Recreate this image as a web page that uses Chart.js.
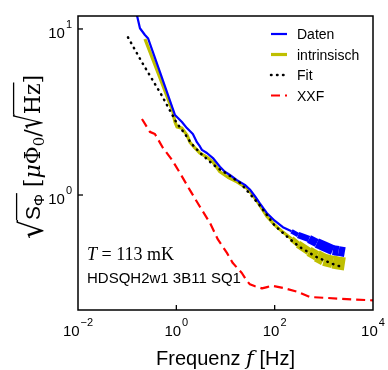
<!DOCTYPE html>
<html><head><meta charset="utf-8">
<script src="https://cdn.jsdelivr.net/npm/chart.js@4.4.0/dist/chart.umd.min.js"></script>
<style>html,body{margin:0;padding:0;background:#fff;}#wrap{width:388px;height:370px;}</style>
</head><body><div id="wrap"><canvas id="c" width="388" height="370"></canvas></div>
<script>
// ---- data ----
const freqDaten = [0.150, 0.158, 0.182, 0.230, 0.265, 0.465, 0.940, 1.08, 1.30, 1.64, 2.17, 2.62, 3.02, 3.31, 4.19, 5.55, 7.7, 9.7, 12.3, 17.1, 24.8, 31.3, 40, 50, 69, 100, 147, 220, 300, 500, 721, 1000, 1525, 2000, 2670];
const valDaten  = [14.0, 12.1, 10.1, 9.2, 8.8, 5.5, 3.03, 2.91, 2.75, 2.53, 2.33, 2.08, 1.96, 1.87, 1.79, 1.67, 1.48, 1.38, 1.32, 1.23, 1.15, 1.08, 0.98, 0.89, 0.78, 0.70, 0.64, 0.605, 0.575, 0.543, 0.514, 0.492, 0.466, 0.460, 0.453];

const freqIntr = [0.230, 0.465, 0.853, 0.90, 0.94, 1.03, 1.30, 1.64, 1.89, 2.39, 3.02, 4.19, 5.55, 7.7, 11.2, 17.1, 27.2, 36, 50, 69, 100, 147, 220, 300, 500, 721, 1000, 1525, 2000, 2670];
const valIntr  = [8.7, 5.07, 3.16, 2.90, 2.75, 2.57, 2.53, 2.30, 2.08, 1.92, 1.79, 1.69, 1.58, 1.38, 1.28, 1.20, 1.10, 1.00, 0.865, 0.745, 0.66, 0.598, 0.545, 0.505, 0.457, 0.430, 0.408, 0.395, 0.389, 0.384];

const freqFit = [0.104, 0.2, 0.5, 1.0, 1.5, 2, 3, 5, 7, 10, 20, 30, 50, 100, 200, 325, 500, 700, 1000, 1500, 2000, 2430];
const valFit  = [8.9, 6.3, 4.0, 2.74, 2.33, 2.05, 1.80, 1.57, 1.45, 1.36, 1.18, 1.03, 0.865, 0.655, 0.545, 0.486, 0.45, 0.424, 0.405, 0.385, 0.374, 0.368];

const freqXXF = [0.2, 0.29, 0.367, 0.535, 0.815, 1.18, 1.89, 3.02, 4.82, 7.0, 10.7, 14.1, 21.5, 27, 31.3, 40, 55, 70, 88, 147, 283, 519, 1150, 2930, 10000];
const valXXF  = [2.87, 2.40, 2.33, 1.92, 1.63, 1.36, 1.07, 0.85, 0.68, 0.54, 0.448, 0.389, 0.339, 0.305, 0.290, 0.282, 0.274, 0.279, 0.284, 0.276, 0.262, 0.243, 0.240, 0.236, 0.232];

// noise band (spread of the measured spectra at high frequency), as drawn line width
const bandFreq  = [150, 300, 500, 700, 1500, 2700];
const bandDaten = [2.2, 6.5, 8.5, 10, 10, 9.5];
const bandIntr  = [3.2, 8, 10, 12, 13, 13];

const seriesNames = ['Daten', 'intrinsisch', 'Fit', 'XXF'];
const xTickVals = [0.01, 1, 100, 10000];
const xTickExps = ['\u22122', '0', '2', '4'];
const yTickVals = [1, 10];
const yTickExps = ['0', '1'];
const xRange = [0.01, 10000];
const yRange = [0.203, 11.97];
const noteLines = ['T = 113 mK', 'HDSQH2w1 3B11 SQ1'];

// ---- chart ----
const pts = (f, v) => f.map((x, i) => ({x: x, y: v[i]}));
const colors = ['#0000ff', '#bfbf00', '#000000', '#ff0000'];
const widths = [2.2, 3.2, 2.5, 2.2];
const dashes = [[], [], [0.5, 5.5], [9, 5]];

function bandWidth(f, tbl, w0) {
  if (f <= bandFreq[0]) return w0;
  for (let i = 1; i < bandFreq.length; i++) {
    if (f <= bandFreq[i]) {
      const t = (Math.log(f) - Math.log(bandFreq[i - 1])) / (Math.log(bandFreq[i]) - Math.log(bandFreq[i - 1]));
      return tbl[i - 1] + t * (tbl[i] - tbl[i - 1]);
    }
  }
  return tbl[tbl.length - 1];
}

Chart.defaults.font.family = '"Liberation Sans", Arial, sans-serif';

function measureSegs(ctx, segs) {
  let w = 0;
  segs.forEach(s => { ctx.font = s.font; s.w = ctx.measureText(s.t).width; w += s.w; });
  return w;
}

function powLabel(ctx, exp, x, yBase, align) {
  const bigF = '15px "Liberation Sans"', smallF = '11px "Liberation Sans"';
  ctx.font = bigF; const w1 = ctx.measureText('10').width;
  ctx.font = smallF; const w2 = ctx.measureText(exp).width;
  const tot = w1 + 1 + w2;
  let x0 = align === 'right' ? x - tot : x - tot / 2;
  ctx.textAlign = 'left';
  ctx.font = bigF; ctx.fillText('10', x0, yBase);
  ctx.font = smallF; ctx.fillText(exp, x0 + w1 + 1, yBase - 10);
}

const decor = {
  id: 'decor',
  afterDatasetsDraw(chart) {
    const ctx = chart.ctx, a = chart.chartArea, xs = chart.scales.x, ys = chart.scales.y;
    ctx.save();
    // frame
    ctx.strokeStyle = '#000'; ctx.lineWidth = 1.5; ctx.setLineDash([]);
    ctx.strokeRect(a.left, a.top, a.right - a.left, a.bottom - a.top);
    // inward ticks + labels
    ctx.lineWidth = 1.3; ctx.fillStyle = '#000'; ctx.textBaseline = 'alphabetic';
    xTickVals.forEach((v, i) => {
      const p = xs.getPixelForValue(v);
      if (p > a.left + 2 && p < a.right - 2) { ctx.beginPath(); ctx.moveTo(p, a.bottom); ctx.lineTo(p, a.bottom - 5); ctx.stroke(); }
      powLabel(ctx, xTickExps[i], p, a.bottom + 26, 'center');
    });
    yTickVals.forEach((v, i) => {
      const p = ys.getPixelForValue(v);
      if (p > a.top + 2 && p < a.bottom - 2) { ctx.beginPath(); ctx.moveTo(a.left, p); ctx.lineTo(a.left + 5, p); ctx.stroke(); }
      powLabel(ctx, yTickExps[i], a.left - 6, p + 9, 'right');
    });
    // legend
    ctx.textAlign = 'left';
    seriesNames.forEach((n, i) => {
      const yy = a.top + 18 + i * 20.5;
      ctx.save();
      ctx.strokeStyle = colors[i]; ctx.lineWidth = widths[i];
      ctx.setLineDash(dashes[i]); ctx.lineCap = i === 2 ? 'round' : 'butt';
      ctx.beginPath(); ctx.moveTo(a.right - 102, yy); ctx.lineTo(a.right - 86, yy); ctx.stroke();
      ctx.restore();
      ctx.fillStyle = '#000';
      ctx.font = '14px "Liberation Sans"';
      ctx.fillText(n, a.right - 76, yy + 5);
    });
    // annotation
    let xx = a.left + 9;
    ctx.font = 'italic 18px "Liberation Serif"';
    ctx.fillText('T', xx, a.bottom - 50);
    xx += ctx.measureText('T').width;
    ctx.font = '18px "Liberation Serif"';
    ctx.fillText(noteLines[0].slice(1), xx, a.bottom - 50);
    ctx.font = '15px "Liberation Sans"';
    ctx.fillText(noteLines[1], a.left + 9, a.bottom - 27);
    // x title
    const xsegs = [
      {t: 'Frequenz ', font: '20px "Liberation Sans"'},
      {t: 'f', font: 'italic 21px "DejaVu Serif"'},
      {t: ' [Hz]', font: '20px "Liberation Sans"'}
    ];
    let tw = measureSegs(ctx, xsegs);
    let u = (a.left + a.right) / 2 - tw / 2;
    xsegs.forEach(s => { ctx.font = s.font; ctx.fillText(s.t, u, 365); u += s.w; });
    // y title (rotated)
    ctx.translate(0, 157); ctx.rotate(-Math.PI / 2);
    const base = 40;
    const ysegs = [
      {rad: true, top: -24, bot: 4, wid: 19, grp: 1},
      {t: 'S', font: '21px "Liberation Sans"', grp: 1},
      {t: '\u03A6', font: '15px "Liberation Sans"', dy: 4, grp: 1},
      {t: ' [', font: '22px "DejaVu Serif"'},
      {t: '\u03BC', font: 'italic 22px "DejaVu Serif"'},
      {t: '\u03A6', font: '22px "DejaVu Serif"'},
      {t: '0', font: '15px "DejaVu Serif"', dy: 4},
      {t: '/', font: '22px "DejaVu Serif"'},
      {rad: true, top: -27, bot: 4, wid: 15, grp: 2},
      {t: 'Hz', font: '22px "DejaVu Serif"', grp: 2},
      {t: ']', font: '22px "DejaVu Serif"'}
    ];
    const radFont = '22px "DejaVu Sans"';
    ysegs.forEach(s => {
      if (s.rad) { ctx.font = radFont; s.m = ctx.measureText('\u221A'); s.w = s.wid; }
      else { ctx.font = s.font; s.w = ctx.measureText(s.t).width; }
    });
    tw = ysegs.reduce((acc, s) => acc + s.w, 0);
    u = -tw / 2;
    const overl = {};
    ysegs.forEach(s => {
      if (s.rad) {
        const m = s.m, asc = m.actualBoundingBoxAscent, desc = m.actualBoundingBoxDescent;
        const vt = base + s.top, vb = base + s.bot;
        const sy = (vb - vt) / (asc + desc);
        const sx = s.wid / m.width;
        const y0 = vb / sy - desc;
        ctx.save(); ctx.translate(u, 0); ctx.scale(sx, sy);
        ctx.font = radFont; ctx.fillText('\u221A', 0, y0);
        ctx.restore();
        overl[s.grp] = {start: u + m.actualBoundingBoxRight * sx - 1.2, v: vt + 0.6, end: u + s.w};
      } else {
        ctx.font = s.font; ctx.fillText(s.t, u, base + (s.dy || 0));
        if (s.grp) overl[s.grp].end = u + s.w;
      }
      u += s.w;
    });
    ctx.lineWidth = 1.3; ctx.strokeStyle = '#000';
    Object.values(overl).forEach(o => { ctx.beginPath(); ctx.moveTo(o.start, o.v); ctx.lineTo(o.end + 1, o.v); ctx.stroke(); });
    ctx.restore();
  }
};

const datasets = [
  {label: seriesNames[0], data: pts(freqDaten, valDaten), order: 1,
   segment: {borderWidth: c => bandWidth(c.p0.parsed.x, bandDaten, widths[0])}},
  {label: seriesNames[1], data: pts(freqIntr, valIntr), order: 2,
   segment: {borderWidth: c => bandWidth(c.p0.parsed.x, bandIntr, widths[1])}},
  {label: seriesNames[2], data: pts(freqFit, valFit), order: 0, borderCapStyle: 'round'},
  {label: seriesNames[3], data: pts(freqXXF, valXXF), order: 3}
].map((d, i) => Object.assign({
  borderColor: colors[i], backgroundColor: colors[i], borderWidth: widths[i], borderDash: dashes[i],
  pointRadius: 0, pointHoverRadius: 0, tension: 0, fill: false, borderJoinStyle: 'round'
}, d));

new Chart(document.getElementById('c'), {
  type: 'line',
  data: {datasets: datasets},
  options: {
    responsive: false, animation: false, devicePixelRatio: 1, events: [],
    layout: {padding: {left: 0, top: 16, right: 15, bottom: 0}},
    plugins: {legend: {display: false}, tooltip: {enabled: false}},
    scales: {
      x: {
        type: 'logarithmic', min: xRange[0], max: xRange[1],
        afterBuildTicks: s => { s.ticks = xTickVals.map(v => ({value: v})); },
        afterFit: s => { s.height = 60; },
        grid: {display: false, drawTicks: false}, border: {display: false},
        ticks: {display: false}
      },
      y: {
        type: 'logarithmic', min: yRange[0], max: yRange[1],
        afterBuildTicks: s => { s.ticks = yTickVals.map(v => ({value: v})); },
        afterFit: s => { s.width = 78; },
        grid: {display: false, drawTicks: false}, border: {display: false},
        ticks: {display: false}
      }
    }
  },
  plugins: [decor]
});
</script>
</body></html>
